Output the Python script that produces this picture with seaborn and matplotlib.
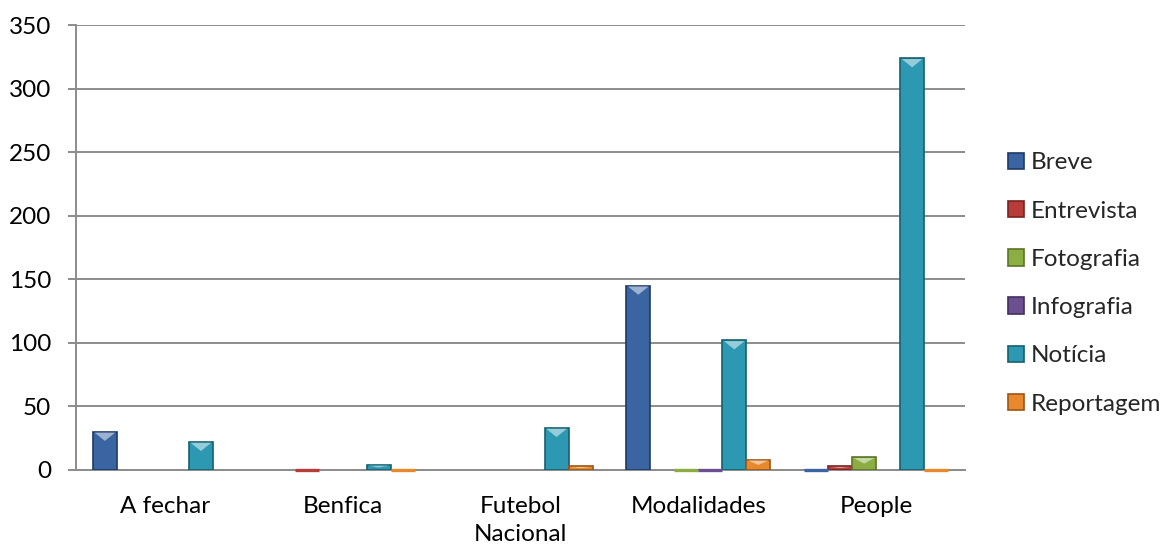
import numpy as np
import pandas as pd
import matplotlib
matplotlib.use("Agg")
import matplotlib.pyplot as plt
import seaborn as sns
from matplotlib.patches import Patch
from matplotlib.colors import to_rgb

# Article counts per section and article type (NaN = no entry)
categories = ["A fechar", "Benfica", "Futebol\nNacional", "Modalidades", "People"]
series = ["Breve", "Entrevista", "Fotografia", "Infografia", "Notícia", "Reportagem"]
nan = np.nan
breve = [30, nan, nan, 145, 0]
entrevista = [nan, 0, nan, nan, 3]
fotografia = [nan, nan, nan, 0, 10]
infografia = [nan, nan, nan, 0, nan]
noticia = [22, 4, 33, 102, 324]
reportagem = [nan, 0, 3, 8, 0]
yticks = [0, 50, 100, 150, 200, 250, 300, 350]

fills = ["#3A64A2", "#B83D3A", "#8CAD42", "#6B4F8F", "#2C98B2", "#E8892E"]
edges = ["#1F3A66", "#7A2220", "#5A7428", "#422F5E", "#17606F", "#9C5514"]

rows = []
for name, vals in zip(series, [breve, entrevista, fotografia, infografia, noticia, reportagem]):
    for cat, v in zip(categories, vals):
        if not np.isnan(v):
            rows.append({"section": cat, "type": name, "count": v})
df = pd.DataFrame(rows)

sns.set_style("white")
plt.rcParams["font.family"] = ["Lato", "DejaVu Sans"]
FS = 17.5

fig = plt.figure(figsize=(11.66, 5.44), dpi=100)
ax = fig.add_axes([76 / 1166, 1 - 470 / 544, (965 - 76) / 1166, (470 - 25.3) / 544])

sns.barplot(data=df, x="section", y="count", hue="type",
            order=categories, hue_order=series,
            palette=dict(zip(series, fills)), saturation=1,
            errorbar=None, width=0.81, dodge=True, ax=ax)

ax.set_xlim(-0.5, len(categories) - 0.5)
ax.set_ylim(0, 350)

# bevelled look: darker outline plus a light wedge on each bar top
units_per_px = 350 / 444.7


def lighten(c, f):
    r = np.array(to_rgb(c))
    return tuple(r + (1 - r) * f)


for cont, fc, ec in zip(ax.containers, fills, edges):
    for bar in cont:
        h = bar.get_height()
        if h <= 0:
            bar.set_edgecolor(fc)
            bar.set_linewidth(2.4)
            bar.set_zorder(3)
            bar.set_clip_on(False)
            continue
        bar.set_edgecolor(ec)
        bar.set_linewidth(1.2)
        bar.set_zorder(2)
        x0 = bar.get_x()
        w = bar.get_width()
        d = min(9 * units_per_px, h * 0.5)
        inset = w * 0.07
        ax.fill([x0 + inset, x0 + w - inset, x0 + w / 2],
                [h - 0.7 * units_per_px, h - 0.7 * units_per_px, h - d],
                color=lighten(fc, 0.5), lw=0, zorder=2.2)

ax.set_yticks(yticks)
ax.set_xlabel("")
ax.set_ylabel("")

grid_c = "#8C8C8C"
ax.yaxis.grid(True, color=grid_c, linewidth=1.4)
ax.xaxis.grid(False)
ax.set_axisbelow(True)
for s in ["top", "right"]:
    ax.spines[s].set_visible(False)
for s in ["left", "bottom"]:
    ax.spines[s].set_color(grid_c)
    ax.spines[s].set_linewidth(1.4)
    ax.spines[s].set_zorder(1.5)

ax.tick_params(axis="y", length=6, width=1.4, color=grid_c, pad=12, labelsize=FS,
               labelcolor="black", left=True)
ax.tick_params(axis="x", length=0, pad=19, labelsize=FS, labelcolor="black")
for lbl in ax.get_xticklabels():
    lbl.set_linespacing(1.4)

ax.get_legend().remove()
handles = [Patch(facecolor=f, edgecolor=e, linewidth=1.2) for f, e in zip(fills, edges)]
fig.legend(handles, series, loc="center left",
           bbox_to_anchor=(1008 / 1166, 1 - 283.5 / 544),
           frameon=False, fontsize=FS, borderpad=0, borderaxespad=0,
           handlelength=0.66, handleheight=0.66, handletextpad=0.28,
           labelspacing=1.12)

fig.savefig("out.png", dpi=100)
